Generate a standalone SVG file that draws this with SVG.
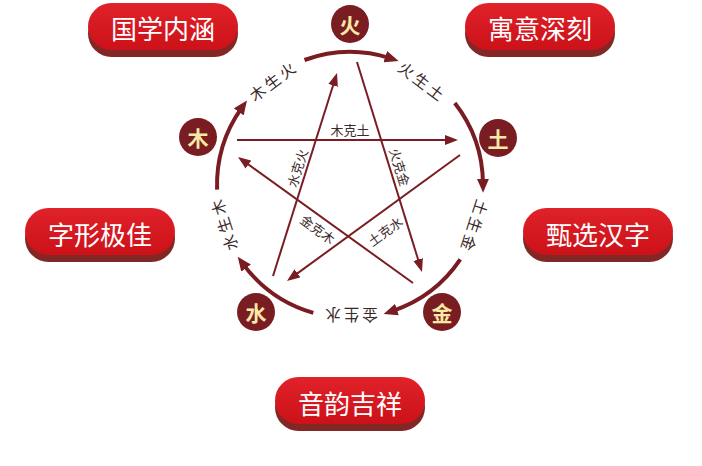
<svg xmlns="http://www.w3.org/2000/svg" width="702" height="466" viewBox="0 0 702 466">
<defs>
<linearGradient id="rg" x1="0" y1="0" x2="0" y2="1">
<stop offset="0" stop-color="#e0222a"/>
<stop offset="1" stop-color="#cc1119"/>
</linearGradient>
<marker id="ah" markerUnits="userSpaceOnUse" markerWidth="14" markerHeight="12" refX="5" refY="6" orient="auto" viewBox="0 0 14 12">
<path d="M0,0 L14,6 L0,12 z" fill="#7a1d22"/>
</marker>
<marker id="as" markerUnits="userSpaceOnUse" markerWidth="13" markerHeight="10" refX="9" refY="5" orient="auto" viewBox="0 0 13 10">
<path d="M0,0 L13,5 L0,10 z" fill="#7a1d22"/>
</marker>
</defs>
<style>
.sh{fill:#822626}
.btn{fill:url(#rg)}
.bt{font-family:"Noto Sans CJK SC",sans-serif;font-size:26px;fill:#fff;text-anchor:middle;dominant-baseline:central}
.el{fill:#7a1d22}
.et{font-family:"Noto Sans CJK SC",sans-serif;font-size:21px;font-weight:bold;fill:#f7e9a6;text-anchor:middle;dominant-baseline:central}
.arc{fill:none;stroke:#7a1d22;stroke-width:4;marker-end:url(#ah)}
.ln{fill:none;stroke:#7a1d22;stroke-width:2;marker-end:url(#as)}
.al{font-family:"Noto Sans CJK SC",sans-serif;font-size:15.5px;fill:#3a2a2a;text-anchor:middle;dominant-baseline:central;letter-spacing:3px}
.sl{font-family:"Noto Sans CJK SC",sans-serif;font-size:13px;fill:#3a2a2a;text-anchor:middle;dominant-baseline:central}
</style>
<rect width="702" height="466" fill="#fff"/>

<g id="btn-guoxue">
<rect class="sh" x="88" y="10" width="150" height="47" rx="23.5"/>
<rect class="btn" x="88" y="3" width="150" height="47" rx="23.5"/>
<text class="bt" x="163" y="27">国学内涵</text>
</g>
<g id="btn-yuyi">
<rect class="sh" x="465" y="10" width="150" height="47" rx="23.5"/>
<rect class="btn" x="465" y="3" width="150" height="47" rx="23.5"/>
<text class="bt" x="540" y="27">寓意深刻</text>
</g>
<g id="btn-zixing">
<rect class="sh" x="25" y="215" width="150" height="47" rx="23.5"/>
<rect class="btn" x="25" y="208" width="150" height="47" rx="23.5"/>
<text class="bt" x="100" y="233">字形极佳</text>
</g>
<g id="btn-zhenxuan">
<rect class="sh" x="523" y="215" width="150" height="47" rx="23.5"/>
<rect class="btn" x="523" y="208" width="150" height="47" rx="23.5"/>
<text class="bt" x="598" y="233">甄选汉字</text>
</g>
<g id="btn-yinyun">
<rect class="sh" x="275" y="384" width="150" height="47" rx="23.5"/>
<rect class="btn" x="275" y="377" width="150" height="47" rx="23.5"/>
<text class="bt" x="350" y="402">音韵吉祥</text>
</g>

<g id="connectors">
<path class="arc" d="M304.5,60 A133,133 0 0 1 390,58.2"/>
<path class="arc" d="M454.8,103.1 A133,133 0 0 1 483,183.8"/>
<path class="arc" d="M460.3,259.4 A133,133 0 0 1 392.2,311.1"/>
<path class="arc" d="M313.3,312.9 A133,133 0 0 1 243.1,264.1"/>
<path class="arc" d="M217.1,189.6 A133,133 0 0 1 241.7,107.8"/>
<line class="ln" x1="237" y1="140" x2="454" y2="140"/>
<line class="ln" x1="273" y1="276" x2="335.8" y2="76.8"/>
<line class="ln" x1="357" y1="62" x2="420.8" y2="268.2"/>
<line class="ln" x1="460" y1="155" x2="290.2" y2="278.6"/>
<line class="ln" x1="413" y1="283" x2="241.2" y2="159.3"/>
<text class="al" transform="translate(273,80) rotate(-37)">木生火</text>
<text class="al" transform="translate(423,81) rotate(37)">火生土</text>
<text class="al" transform="translate(475,227) rotate(108)">土生金</text>
<text class="al" transform="translate(350,316) rotate(180)">金生水</text>
<text class="al" transform="translate(223,224) rotate(-108)">水生木</text>
<text class="sl" x="350" y="129">木克土</text>
<text class="sl" transform="translate(297,168) rotate(-72.5)">水克火</text>
<text class="sl" transform="translate(400,167) rotate(72.8)">火克金</text>
<text class="sl" transform="translate(318,229) rotate(36)">金克木</text>
<text class="sl" transform="translate(385,231) rotate(-36)">土克水</text>
</g>

<g id="el-huo">
<circle class="el" cx="350" cy="24" r="19"/>
<text class="et" x="350" y="24">火</text>
</g>
<g id="el-tu">
<circle class="el" cx="498" cy="138" r="19"/>
<text class="et" x="498" y="138">土</text>
</g>
<g id="el-jin">
<circle class="el" cx="442" cy="312" r="19"/>
<text class="et" x="442" y="312">金</text>
</g>
<g id="el-shui">
<circle class="el" cx="256" cy="312" r="19"/>
<text class="et" x="256" y="312">水</text>
</g>
<g id="el-mu">
<circle class="el" cx="198" cy="137" r="19"/>
<text class="et" x="198" y="137">木</text>
</g>
</svg>
